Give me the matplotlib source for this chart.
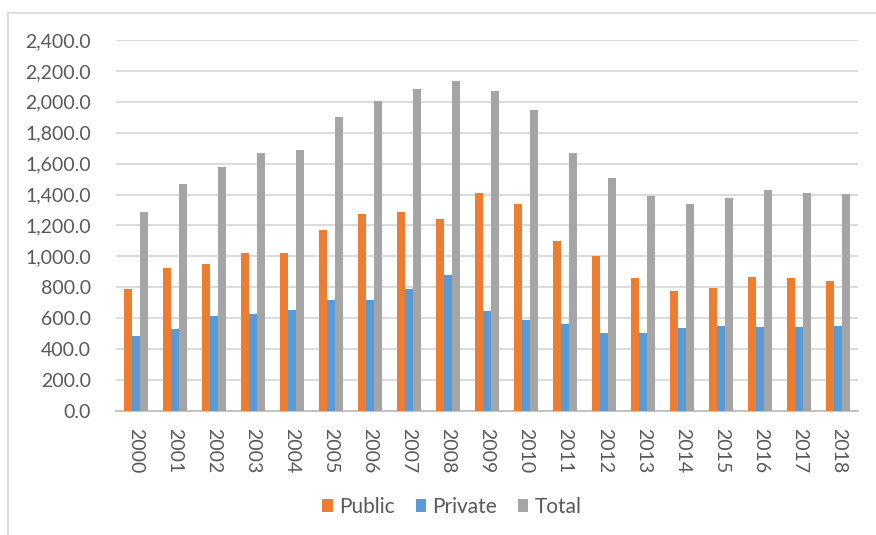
import matplotlib.pyplot as plt
import numpy as np
from matplotlib.patches import Rectangle
from matplotlib.ticker import FuncFormatter

# Wydatki wg sektora, lata 2000-2018
lata = [str(r) for r in range(2000, 2019)]
publiczne = [790, 925, 950, 1025, 1025, 1170, 1275, 1285, 1245, 1413,
             1336, 1100, 1001, 859, 775, 796, 865, 859, 843]
prywatne = [487, 531, 615, 630, 652, 720, 720, 790, 880, 645,
            591, 561, 502, 507, 537, 552, 544, 544, 552]
razem = [1285, 1467, 1579, 1670, 1687, 1905, 2004, 2080, 2134, 2073,
         1944, 1670, 1510, 1392, 1338, 1381, 1428, 1413, 1404]

kolory = ['#ed7d31', '#5b9bd5', '#a5a5a5']
nazwy = ['Public', 'Private', 'Total']

plt.rcParams['font.family'] = ['Lato', 'DejaVu Sans']

W, H = 876, 535
fig = plt.figure(figsize=(W / 100, H / 100), dpi=100)

# ramka wokół wykresu
fig.patches.append(Rectangle((8 / W, -0.05), 1.1, 1 - 13 / H + 0.05,
                             transform=fig.transFigure, fill=False,
                             edgecolor='#d9d9d9', linewidth=1.2))

ax = fig.add_axes([116 / W, 1 - 411 / H, (858 - 116) / W, (411 - 40) / H])

x = np.arange(len(lata))
szer = 0.205
for i, (dane, kol, nazwa) in enumerate(zip([publiczne, prywatne, razem], kolory, nazwy)):
    ax.bar(x + (i - 1) * szer, dane, szer, color=kol, label=nazwa, zorder=3)

ax.set_xlim(-0.5, len(lata) - 0.5)
ax.set_ylim(0, 2400)
ax.set_yticks(np.arange(0, 2401, 200))
ax.yaxis.set_major_formatter(FuncFormatter(lambda v, p: f'{v:,.1f}'))
ax.set_xticks(x)
ax.set_xticklabels(lata, rotation=-90)

ax.grid(axis='y', color='#d9d9d9', linewidth=1.3, zorder=0)
for s in ['top', 'right', 'left']:
    ax.spines[s].set_visible(False)
ax.spines['bottom'].set_color('#bfbfbf')
ax.spines['bottom'].set_linewidth(1.3)
ax.tick_params(axis='both', length=0, labelsize=14, labelcolor='#595959')
ax.tick_params(axis='y', pad=18)
ax.tick_params(axis='x', pad=12)

leg = fig.legend(loc='center', bbox_to_anchor=(452 / W, 1 - 507 / H), ncol=3,
                 frameon=False, fontsize=15, handlelength=0.5, handleheight=0.6,
                 handletextpad=0.3, columnspacing=1.0)
for t in leg.get_texts():
    t.set_color('#595959')

fig.savefig('out.png', dpi=100)
